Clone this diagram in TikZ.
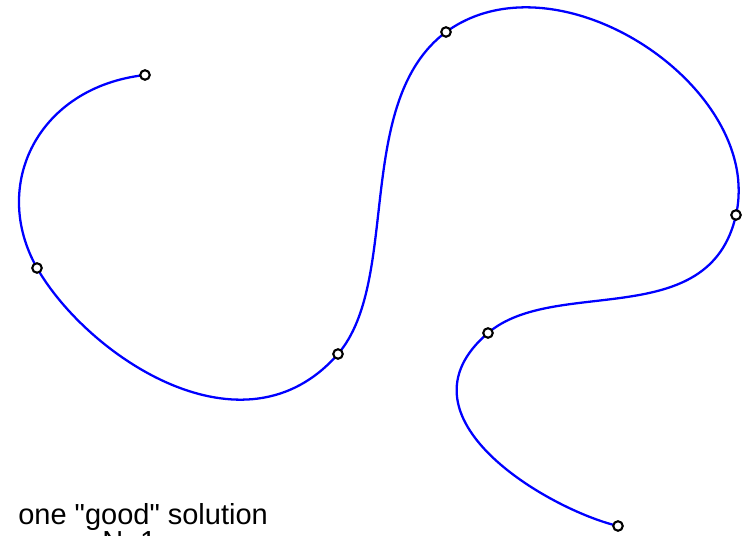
\documentclass[tikz,border=0pt]{standalone}
\usepackage{fontspec}
\newfontfamily\capfont{Liberation Sans}
\usepackage{tikz}
\usetikzlibrary{positioning}

\begin{document}
\begin{tikzpicture}[
        x=0.02cm, y=-0.02cm,
        curve/.style={blue,line width=1.3pt},
        knot/.style={circle,draw=black,fill=white,line width=1.2pt,inner sep=0pt,minimum size=0.19cm},
        caption/.style={anchor=base west,inner sep=0pt,font=\capfont\fontsize{16.5}{20}\selectfont}
    ]
        \useasboundingbox (0,0) rectangle (751,536);

        % interpolation points
        \coordinate (p1) at (145,75);
        \coordinate (p2) at (37,268);
        \coordinate (p3) at (338,354);
        \coordinate (p4) at (446,32);
        \coordinate (p5) at (736,215);
        \coordinate (p6) at (488,333);
        \coordinate (p7) at (618,526);

        \draw[curve] (p1) .. controls (38,87) and (-10,185) .. (p2)
            .. controls (87.5,356) and (244,462) .. (p3)
            .. controls (401.2,280.1) and (353,101.7) .. (p4)
            .. controls (558.6,-50) and (764.6,88.3) .. (p5)
            .. controls (709.3,333.5) and (554.7,275.9) .. (p6)
            .. controls (389,417.5) and (550,510) .. (p7);

        \foreach \i in {1,...,7}
            \node[knot] (k\i) at (p\i) {};

        \node[caption] (title) at (18,525) {one "good" solution};
        \node[caption] (count) at (102,552) {N=1};
    \end{tikzpicture}
\end{document}
